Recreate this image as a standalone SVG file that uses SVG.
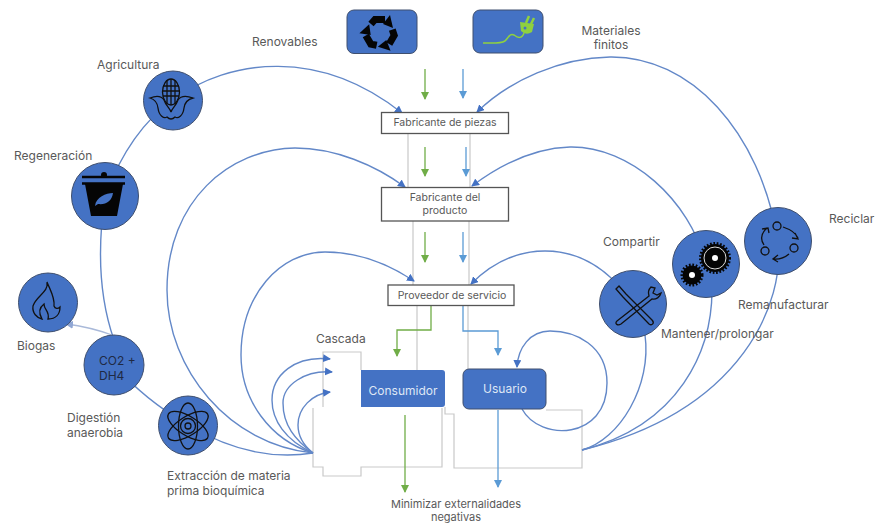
<svg xmlns="http://www.w3.org/2000/svg" width="875" height="524" viewBox="0 0 875 524">
<style>
text{font-family:Inter,"Liberation Sans",sans-serif;font-size:12px;fill:#595959}
.c{text-anchor:middle}
.s{font-size:10.500px}
.b{font-size:11px}
.arc{fill:none;stroke:#6388c8;stroke-width:1.4}
.g{fill:none;stroke:#c9c9c9;stroke-width:1.2}
.circ{fill:#4472c4;stroke:#3f4f6e;stroke-width:1}
.box{fill:#fff;stroke:#555;stroke-width:1.3}
.ic{fill:none;stroke:#111;stroke-width:1.3}
.grn{fill:none;stroke:#70ad47;stroke-width:1.3}
.lb{fill:none;stroke:#5b9bd5;stroke-width:1.3}
</style>
<defs>
<marker id="ab" markerUnits="userSpaceOnUse" markerWidth="9" markerHeight="8" refX="7" refY="4" orient="auto"><path d="M0,0L8,4L0,8z" fill="#4472c4"/></marker>
<marker id="ag" markerUnits="userSpaceOnUse" markerWidth="9" markerHeight="8" refX="7" refY="4" orient="auto"><path d="M0,0L8,4L0,8z" fill="#70ad47"/></marker>
<marker id="al" markerUnits="userSpaceOnUse" markerWidth="9" markerHeight="8" refX="7" refY="4" orient="auto"><path d="M0,0L8,4L0,8z" fill="#5b9bd5"/></marker>
<marker id="ap" markerUnits="userSpaceOnUse" markerWidth="9" markerHeight="8" refX="7" refY="4" orient="auto"><path d="M0,0L8,4L0,8z" fill="#8fa6d4"/></marker>
<g id="rec"><path d="M-9,-9L-5,-13.500L5,-13.500" fill="none" stroke="#050505" stroke-width="7"/><path d="M3,-9L10,-18L13,-5z" fill="#050505"/></g>
</defs>
<g id="outlines">
<path class="g" d="M408,133V188M470,133V188M413,221V285M469,221V285M417,305V370M468,305V370"/>
<path class="g" d="M323,407V352H361V370M313,408V467H323V476H361V467H442V408M445,407V414H454V468H582V410H546"/>
</g>
<g id="connectors">
<path class="arc" marker-end="url(#ab)" d="M173,100C230,58 320,48 402,113"/>
<path class="arc" d="M173,100Q130,130 105,196"/>
<path class="arc" d="M105,196C97,250 100,300 114,340"/>
<path class="arc" d="M114,365Q145,400 188,425"/>
<path class="arc" d="M188,425C230,450 270,460 313,453"/>
<path fill="none" stroke="#a9b9d9" stroke-width="1.3" marker-end="url(#ap)" d="M112,335Q90,327 66,324"/>
<path class="arc" marker-end="url(#ab)" d="M313,453C230,445 167,370 167,290C167,200 230,149 295,148C335,148 375,165 405,187"/>
<path class="arc" marker-end="url(#ab)" d="M313,453C270,440 241,400 241,355C241,295 280,252 325,252C360,252 390,265 414,281"/>
<path class="arc" marker-end="url(#ab)" d="M313,453C285,440 272,420 272,400C272,375 295,355 330,359"/>
<path class="arc" marker-end="url(#ab)" d="M313,453C295,440 283,425 283,403C283,385 305,370 332,372"/>
<path class="arc" marker-end="url(#ab)" d="M313,453C303,445 298,437 298,425C298,408 312,394 330,392"/>
<path class="arc" marker-end="url(#ab)" d="M778,241C760,130 690,56 610,57C560,58 510,80 477,112"/>
<path class="arc" d="M778,241C785,300 745,410 582,450"/>
<path class="arc" marker-end="url(#ab)" d="M706,264C690,200 630,146 570,147C535,148 500,165 472,186"/>
<path class="arc" d="M712,290C712,350 680,425 582,450"/>
<path class="arc" marker-end="url(#ab)" d="M633,304C610,270 580,251 545,251C515,251 490,265 471,284"/>
<path class="arc" d="M645,335C652,385 620,440 582,450"/>
<path class="arc" marker-end="url(#ab)" d="M522,409C540,442 607,440 607,383C607,345 575,331 550,331C530,331 518,348 517,367"/>
<path class="grn" marker-end="url(#ag)" d="M425,69V99"/>
<path class="lb" marker-end="url(#al)" d="M463,69V98"/>
<path class="grn" marker-end="url(#ag)" d="M425,147V176"/>
<path class="lb" marker-end="url(#al)" d="M466,147V176"/>
<path class="grn" marker-end="url(#ag)" d="M425,232V262"/>
<path class="lb" marker-end="url(#al)" d="M463,232V262"/>
<path class="grn" marker-end="url(#ag)" d="M431,305V330H397V356"/>
<path class="lb" marker-end="url(#al)" d="M463,305V331H498V355"/>
<path class="grn" marker-end="url(#ag)" d="M405,415V492"/>
<path class="lb" marker-end="url(#al)" d="M498,410V487"/>
</g>
<g id="renovables-icon">
<rect x="347" y="10" width="70" height="43.500" rx="7" fill="#4472c4" stroke="#3f4f6e"/>
<use href="#rec" transform="translate(380,33)"/>
<use href="#rec" transform="translate(380,33) rotate(120)"/>
<use href="#rec" transform="translate(380,33) rotate(240)"/>
</g>
<g id="finitos-icon">
<rect x="473" y="10" width="70" height="43" rx="7" fill="#4472c4" stroke="#3f4f6e"/>
<path d="M483,43C492,43 500,44 505,41C509,37 510,33 514,35C518,38 522,39 524,33" fill="none" stroke="#8fd13f" stroke-width="1.500"/>
<path d="M520,22L534,24L532,32Q526,36 521,31z" fill="#8fd13f"/>
<path d="M526,23L529,16M531,24L534,18" stroke="#8fd13f" stroke-width="2.500"/>
<circle cx="525" cy="28" r="1.500" fill="#4472c4"/>
</g>
<g id="agricultura"><circle class="circ" cx="173" cy="100.500" r="29.500"/>
<ellipse class="ic" cx="171" cy="92" rx="8.500" ry="13"/>
<path class="ic" stroke-width="0.600" d="M163,86H179M163,91H179M163,96H179M167,80V104M171,79V105M175,80V104"/>
<path class="ic" style="fill:#4472c4" d="M150,98Q160,94 164,100C166,106 170,108 171,112C172,108 176,106 178,100Q182,94 193,98Q185,100 184,108C183,116 178,119 175,117Q171,121 167,117C164,119 159,116 158,108Q157,100 150,98z"/>
</g>
<g id="regeneracion"><circle class="circ" cx="105" cy="196" r="33.500"/>
<path stroke="#050505" stroke-width="2.500" d="M82,177H125M82,183.500H125"/>
<circle cx="104" cy="175" r="3" fill="#050505"/>
<path d="M85,184H123L117,216H91z" fill="#050505"/>
<path d="M95,206C96,197 106,193 113,193C112,201 106,205 98,204z" fill="#4472c4"/>
</g>
<g id="biogas"><circle class="circ" cx="48" cy="302.500" r="29.500"/>
<path class="ic" d="M47,282C49,292 36,296 33,306C32,313 37,318 42,319C38,312 40,307 44,304C44,310 50,311 48,319C56,319 60,314 60,307C58,309 55,309 54,306C55,297 50,290 47,282z"/>
</g>
<g id="digestion"><circle class="circ" cx="114" cy="365" r="30"/>
<text x="99" y="365" style="fill:#1f2a44">CO2 +</text>
<text x="99" y="380" style="fill:#1f2a44">DH4</text>
</g>
<g id="extraccion"><circle class="circ" cx="188" cy="425.500" r="29.500"/>
<g class="ic"><ellipse cx="188" cy="426" rx="23" ry="9.500" transform="rotate(90 188 426)"/><ellipse cx="188" cy="426" rx="23" ry="9.500" transform="rotate(32 188 426)"/><ellipse cx="188" cy="426" rx="23" ry="9.500" transform="rotate(-32 188 426)"/><circle cx="188" cy="426" r="7.500"/><circle cx="188" cy="426" r="3"/></g>
</g>
<g id="compartir"><circle class="circ" cx="633" cy="304" r="33.500"/>
<path class="ic" d="M616,289L619,286L626,294L652,320C655,323 652,326 649,324L623,297z"/>
<path class="ic" d="M651,287C648,290 648,293 649,296L617,321C614,324 618,326 621,324L652,299C656,300 660,297 661,293L657,295L653,293L655,288z"/>
</g>
<g id="remanufacturar"><circle class="circ" cx="706" cy="264" r="33.500"/>
<circle cx="715" cy="258" r="14" fill="#050505" stroke="#050505" stroke-width="4" stroke-dasharray="1.600 1.600"/>
<circle cx="715" cy="258" r="11" fill="#050505" stroke="#ddd" stroke-width="1"/>
<circle cx="715" cy="258" r="3" fill="#fff"/>
<circle cx="692" cy="275" r="9.500" fill="#050505" stroke="#050505" stroke-width="4" stroke-dasharray="1.600 1.600"/>
<circle cx="692" cy="275" r="3" fill="#fff"/>
</g>
<g id="reciclar"><circle class="circ" cx="778" cy="241" r="33.500"/>
<g class="ic"><circle cx="777" cy="226" r="4"/><circle cx="794" cy="248" r="4"/><circle cx="765" cy="251" r="4"/>
<path d="M783,227Q795,231 798,238M795,233L798,239L792,238"/>
<path d="M789,254Q782,260 773,259M778,255L773,259L778,262"/>
<path d="M764,245Q758,236 767,228M762,229L768,228L769,233"/></g>
</g>
<g id="fabricante-piezas"><rect class="box" x="381.500" y="112.500" width="127" height="21"/><text class="c s" x="445" y="126">Fabricante de piezas</text></g>
<g id="fabricante-producto"><rect class="box" x="381.500" y="187.500" width="127" height="33.500"/><text class="c s" x="445" y="201">Fabricante del</text><text class="c s" x="445" y="214">producto</text></g>
<g id="proveedor"><rect class="box" x="388" y="285" width="126" height="20.500"/><text class="c s" x="452" y="299">Proveedor de servicio</text></g>
<g id="consumidor"><path d="M361,370H442Q445,370 445,373V404Q445,407 442,407H361z" fill="#4472c4"/><text class="c" x="403" y="395" style="fill:#dfe7f5">Consumidor</text></g>
<g id="usuario"><rect x="463" y="369" width="83" height="40" rx="6" fill="#4472c4" stroke="#3f4f6e"/><text class="c" x="505" y="393" style="fill:#dfe7f5">Usuario</text></g>
<g id="labels">
<text x="252" y="46">Renovables</text>
<text x="97" y="69">Agricultura</text>
<text x="14" y="160">Regeneración</text>
<text x="17" y="350">Biogas</text>
<text x="67" y="422">Digestión</text>
<text x="67" y="437">anaerobia</text>
<text x="167" y="480">Extracción de materia</text>
<text x="167" y="495">prima bioquímica</text>
<text x="316" y="343">Cascada</text>
<text class="c" x="611" y="35">Materiales</text>
<text class="c" x="611" y="49">finitos</text>
<text x="603" y="246">Compartir</text>
<text x="829" y="223">Reciclar</text>
<text x="738" y="309">Remanufacturar</text>
<text x="661" y="338">Mantener/prolongar</text>
<text class="c b" x="456" y="507.500">Minimizar externalidades</text>
<text class="c b" x="456" y="521">negativas</text>
</g>
</svg>
